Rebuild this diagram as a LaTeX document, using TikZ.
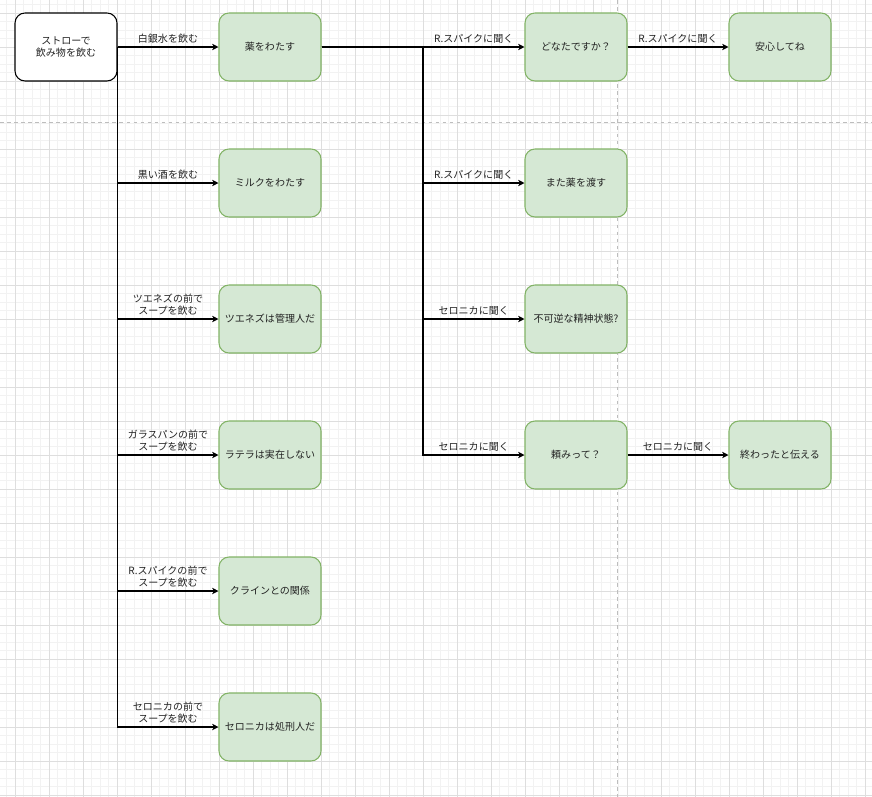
\documentclass[tikz,border=0pt]{standalone}
\usepackage{fontspec}
\newfontfamily\jpfont{Noto Sans CJK JP}
\usetikzlibrary{arrows.meta}
\definecolor{boxfill}{HTML}{D5E8D4}
\definecolor{boxline}{HTML}{82B366}
\definecolor{textcol}{HTML}{222222}
\definecolor{minorcol}{HTML}{F2F2F2}
\definecolor{majorcol}{HTML}{DEDEDE}
\definecolor{pagecol}{HTML}{BDBDBD}
\begin{document}
\begin{tikzpicture}[
	x=0.02cm, y=-0.02cm,
	every node/.style={font=\jpfont\fontsize{5.7pt}{6.6pt}\selectfont, text=textcol},
	startbox/.style={draw=black, fill=white, rounded corners=0.2cm, line width=0.6pt, minimum width=2.04cm, minimum height=1.36cm, align=center, inner sep=0pt},
	scene/.style={draw=boxline, fill=boxfill, rounded corners=0.2cm, line width=0.6pt, minimum width=2.04cm, minimum height=1.36cm, align=center, inner sep=0pt},
	connection/.style={-{Stealth[length=3.6pt, width=3.6pt, inset=1pt]}, line width=0.6pt, black},
	lbl/.style={anchor=south, align=center, inner sep=1pt, yshift=1pt},
	minorgrid/.style={minorcol, line width=0.4pt},
	majorgrid/.style={majorcol, line width=0.5pt},
	pagebreak/.style={pagecol, dashed, dash pattern=on 2pt off 2pt, line width=0.5pt}
	]
	
	% Background and grid
	\useasboundingbox (0,0) rectangle (872,797);
	\fill[white] (0,0) rectangle (872,797);
	\foreach \i in {0,...,102}
		\draw[minorgrid] ({6.5+8.5*\i},0) -- ({6.5+8.5*\i},797);
	\foreach \i in {0,...,93}
		\draw[minorgrid] (0,{4.5+8.5*\i}) -- (872,{4.5+8.5*\i});
	\foreach \i in {0,...,25}
		\draw[majorgrid] ({15+34*\i},0) -- ({15+34*\i},797);
	\foreach \i in {0,...,23}
		\draw[majorgrid] (0,{13+34*\i}) -- (872,{13+34*\i});
	
	% Page breaks
	\draw[pagebreak] (617,0) -- (617,797);
	\draw[pagebreak] (0,122) -- (872,122);
	
	% Start
	\node[startbox] (start) at (66,47) {ストローで\\飲み物を飲む};
	
	% First column
	\node[scene] (kusuri) at (270,47) {薬をわたす};
	\node[scene] (milk) at (270,183) {ミルクをわたす};
	\node[scene] (tuenezu) at (270,319) {ツエネズは管理人だ};
	\node[scene] (latera) at (270,455) {ラテラは実在しない};
	\node[scene] (klein) at (270,591) {クラインとの関係};
	\node[scene] (seronika) at (270,727) {セロニカは処刑人だ};
	
	% Second column
	\node[scene] (donata) at (576,47) {どなたですか？};
	\node[scene] (mata) at (576,183) {また薬を渡す};
	\node[scene] (fukagyaku) at (576,319) {不可逆な精神状態?};
	\node[scene] (tanomi) at (576,455) {頼みって？};
	
	% Third column
	\node[scene] (anshin) at (780,47) {安心してね};
	\node[scene] (owatta) at (780,455) {終わったと伝える};
	
	% Connections: Start to first column
	\draw[connection] (start.east) |- node[lbl, pos=0.75] {白銀水を飲む} (kusuri.west);
	\draw[connection] (start.east) |- node[lbl, pos=0.75] {黒い酒を飲む} (milk.west);
	\draw[connection] (start.east) |- node[lbl, pos=0.75] {ツエネズの前で\\スープを飲む} (tuenezu.west);
	\draw[connection] (start.east) |- node[lbl, pos=0.75] {ガラスパンの前で\\スープを飲む} (latera.west);
	\draw[connection] (start.east) |- node[lbl, pos=0.75] {R.スパイクの前で\\スープを飲む} (klein.west);
	\draw[connection] (start.east) |- node[lbl, pos=0.75] {セロニカの前で\\スープを飲む} (seronika.west);
	
	% Connections: kusuri to second column
	\coordinate (fork) at (423,47);
	\draw[connection] (kusuri.east) -- (fork) |- node[lbl, pos=0.75] {R.スパイクに聞く} (donata.west);
	\draw[connection] (kusuri.east) -- (fork) |- node[lbl, pos=0.75] {R.スパイクに聞く} (mata.west);
	\draw[connection] (kusuri.east) -- (fork) |- node[lbl, pos=0.75] {セロニカに聞く} (fukagyaku.west);
	\draw[connection] (kusuri.east) -- (fork) |- node[lbl, pos=0.75] {セロニカに聞く} (tanomi.west);
	
	% Connections: second to third column
	\draw[connection] (donata) -- node[lbl] {R.スパイクに聞く} (anshin);
	\draw[connection] (tanomi) -- node[lbl] {セロニカに聞く} (owatta);
	
\end{tikzpicture}
\end{document}
